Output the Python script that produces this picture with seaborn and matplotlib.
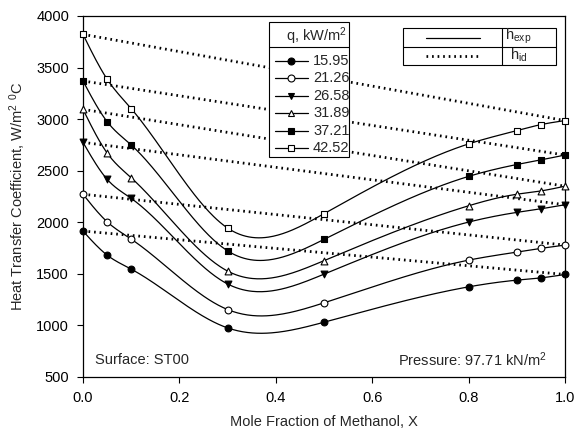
import numpy as np
import matplotlib
matplotlib.use("Agg")
import matplotlib.pyplot as plt
import seaborn as sns
import pandas as pd
from matplotlib.lines import Line2D
from matplotlib.patches import Rectangle

# mole fraction of methanol
x_frac = [0.0, 0.05, 0.1, 0.3, 0.5, 0.8, 0.9, 0.95, 1.0]

# heat flux, kW/m2
q_labels = ["15.95", "21.26", "26.58", "31.89", "37.21", "42.52"]

# measured heat transfer coefficients, W/m2 C
h_1595 = [1915, 1682, 1546, 976, 1031, 1374, 1439, 1461, 1494]
h_2126 = [2272, 2005, 1837, 1154, 1219, 1633, 1711, 1747, 1779]
h_2658 = [2775, 2417, 2232, 1402, 1497, 2002, 2096, 2131, 2170]
h_3189 = [3095, 2672, 2432, 1527, 1628, 2160, 2272, 2304, 2350]
h_3721 = [3370, 2976, 2750, 1723, 1834, 2445, 2560, 2605, 2652]
h_4252 = [3822, 3388, 3102, 1944, 2083, 2760, 2889, 2947, 2986]

series = [h_1595, h_2126, h_2658, h_3189, h_3721, h_4252]
markers = ["o", "o", "v", "^", "s", "s"]
faces = ["black", "white", "black", "white", "black", "white"]

rows = []
for lab, vals in zip(q_labels, series):
    for xv, hv in zip(x_frac, vals):
        rows.append({"x": xv, "h": hv, "q": lab})
df = pd.DataFrame(rows)


def natural_spline(xs, ys, n=300):
    xs = np.asarray(xs, float)
    ys = np.asarray(ys, float)
    m = len(xs)
    h = np.diff(xs)
    A = np.zeros((m, m))
    b = np.zeros(m)
    A[0, 0] = 1
    A[-1, -1] = 1
    for i in range(1, m - 1):
        A[i, i - 1] = h[i - 1]
        A[i, i] = 2 * (h[i - 1] + h[i])
        A[i, i + 1] = h[i]
        b[i] = 6 * ((ys[i + 1] - ys[i]) / h[i] - (ys[i] - ys[i - 1]) / h[i - 1])
    M = np.linalg.solve(A, b)
    xx = np.linspace(xs[0], xs[-1], n)
    k = np.clip(np.searchsorted(xs, xx) - 1, 0, m - 2)
    t0 = xs[k + 1] - xx
    t1 = xx - xs[k]
    hk = h[k]
    yy = (M[k] * t0 ** 3 + M[k + 1] * t1 ** 3) / (6 * hk) \
        + (ys[k] / hk - M[k] * hk / 6) * t0 + (ys[k + 1] / hk - M[k + 1] * hk / 6) * t1
    return xx, yy


sns.set_theme(style="ticks")
plt.rcParams["font.family"] = ["Liberation Sans", "DejaVu Sans"]
plt.rcParams["mathtext.fontset"] = "custom"
plt.rcParams["mathtext.rm"] = "Liberation Sans"
plt.rcParams["mathtext.it"] = "Liberation Sans"

fig = plt.figure(figsize=(5.75, 4.3), dpi=100)
ax = fig.add_axes([83 / 575, 1 - 377 / 430, 482 / 575, 361 / 430])

for lab, mk, fc in zip(q_labels, markers, faces):
    sub = df[df["q"] == lab]
    xx, yy = natural_spline(sub["x"], sub["h"])
    ax.plot(xx, yy, color="black", lw=0.9, zorder=2)
    # ideal line between pure-component values
    ends = sub[sub["x"].isin([0.0, 1.0])]
    sns.lineplot(data=ends, x="x", y="h", ax=ax, color="black", lw=2.0,
                 linestyle=(0, (0.6, 1.4)), zorder=1, legend=False)
    ax.scatter(sub["x"], sub["h"], marker=mk, s=24, facecolor=fc,
               edgecolor="black", linewidth=0.8, zorder=3, clip_on=False)

ax.set_xlim(0, 1)
ax.set_ylim(500, 4000)
ax.set_xticks([0, 0.2, 0.4, 0.6, 0.8, 1.0])
ax.set_xticklabels(["0.0", "0.2", "0.4", "0.6", "0.8", "1.0"])
ax.set_yticks(range(500, 4001, 500))
ax.tick_params(direction="out", length=4, width=0.8, labelsize=10.5, pad=6, colors="black")
for sp in ax.spines.values():
    sp.set_visible(True)
    sp.set_color("black")
    sp.set_linewidth(0.9)
ax.set_xlabel("Mole Fraction of Methanol, X", fontsize=10.5, labelpad=7)
ax.set_ylabel("Heat Transfer Coefficient, W/m$^2$ $^0$C", fontsize=10.5, labelpad=6)


def px(xp, yp):
    return (xp - 83) / 482, (377 - yp) / 361


tr = ax.transAxes

ax.text(*px(95, 360), "Surface: ST00", transform=tr, fontsize=10.5, va="center", ha="left")
ax.text(*px(547, 360), "Pressure: 97.71 kN/m$^2$", transform=tr, fontsize=10.5,
        va="center", ha="right")

# flux legend
x0, y0 = px(269, 157)
x1, y1 = px(349, 22)
ax.add_patch(Rectangle((x0, y0), x1 - x0, y1 - y0, transform=tr, fill=True,
                       facecolor="white", edgecolor="black", lw=0.8, zorder=5))
hx0, hy = px(269, 47)
hx1, _ = px(349, 47)
ax.add_line(Line2D([hx0, hx1], [hy, hy], transform=tr, color="black", lw=0.8, zorder=6))
ax.text(*px(347, 36), "q, kW/m$^2$", transform=tr, fontsize=10.5, ha="right",
        va="center", zorder=6)
row_y = [61, 78.4, 95.8, 113.2, 130.6, 148]
for ry, lab, mk, fc in zip(row_y, q_labels, markers, faces):
    la, yy = px(275, ry)
    lb, _ = px(308, ry)
    mx, _ = px(291, ry)
    ax.add_line(Line2D([la, lb], [yy, yy], transform=tr, color="black", lw=0.9, zorder=6))
    ax.add_line(Line2D([mx], [yy], transform=tr, marker=mk, markersize=5.0,
                       markerfacecolor=fc, markeredgecolor="black", markeredgewidth=0.8,
                       zorder=7))
    ax.text(*px(313, ry), lab, transform=tr, fontsize=10.5, va="center", ha="left", zorder=7)

# line style legend
x0, y0 = px(403, 65)
x1, y1 = px(556, 28)
ax.add_patch(Rectangle((x0, y0), x1 - x0, y1 - y0, transform=tr, facecolor="white",
                       edgecolor="black", lw=0.8, zorder=5))
mxa, my = px(403, 47)
mxb, _ = px(556, 47)
ax.add_line(Line2D([mxa, mxb], [my, my], transform=tr, color="black", lw=0.8, zorder=6))
vx, vya = px(502, 28)
_, vyb = px(502, 65)
ax.add_line(Line2D([vx, vx], [vya, vyb], transform=tr, color="black", lw=0.8, zorder=6))
la, ly = px(426, 38)
lb, _ = px(480, 38)
ax.add_line(Line2D([la, lb], [ly, ly], transform=tr, color="black", lw=0.9, zorder=6))
la, ly2 = px(426, 56)
lb, _ = px(480, 56)
ax.add_line(Line2D([la, lb], [ly2, ly2], transform=tr, color="black", lw=2.0,
                   linestyle=(0, (0.6, 1.4)), zorder=6))
ax.text(*px(505, 36), "h$_\\mathrm{exp}$", transform=tr, fontsize=10.5, va="center", ha="left", zorder=7)
ax.text(*px(510, 55), "h$_\\mathrm{id}$", transform=tr, fontsize=10.5, va="center", ha="left", zorder=7)

fig.savefig("out.png", dpi=100)
